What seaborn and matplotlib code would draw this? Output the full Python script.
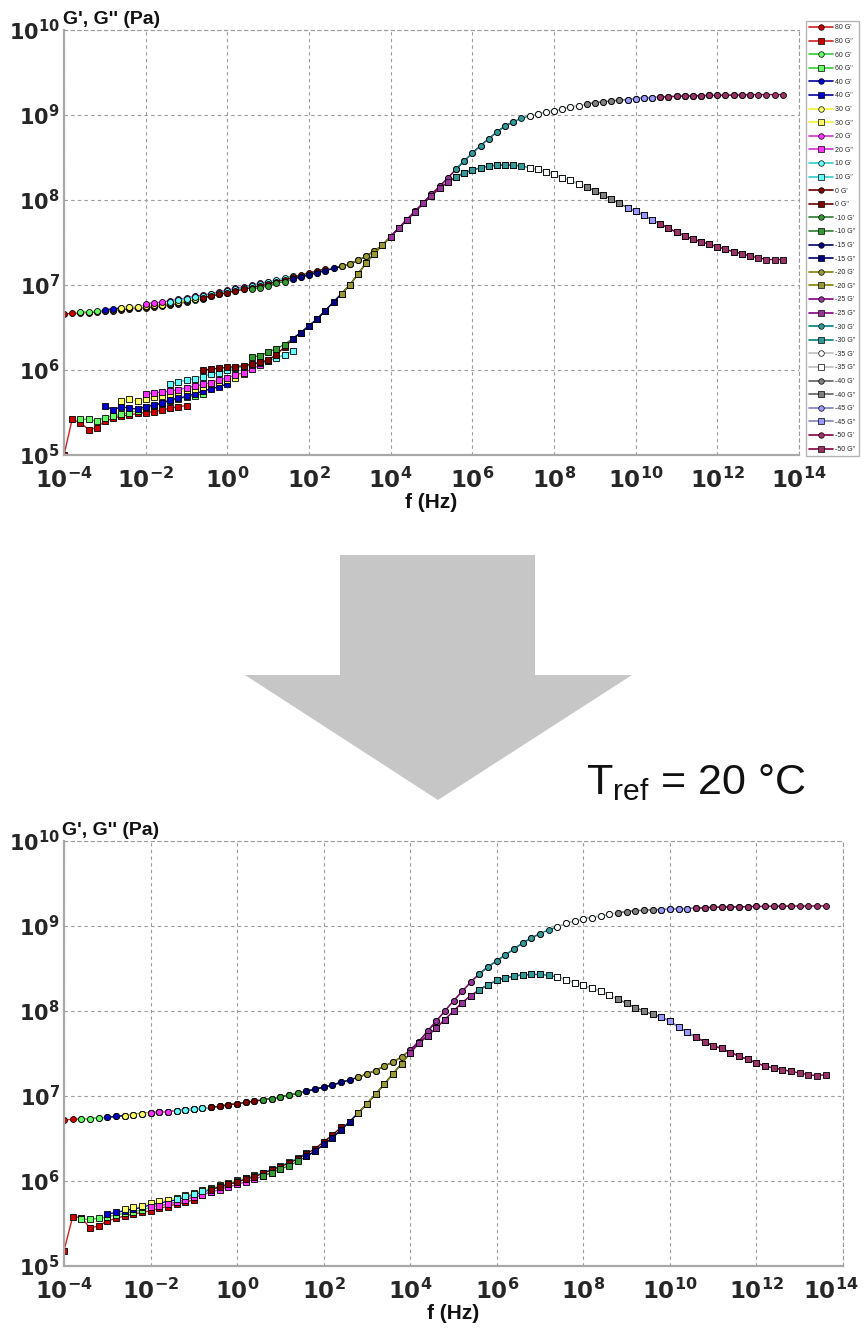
import numpy as np
import pandas as pd
import matplotlib
matplotlib.use("Agg")
import matplotlib.pyplot as plt
import matplotlib.ticker as mticker
import matplotlib.transforms as mtransforms
from matplotlib.lines import Line2D
from matplotlib.patches import Polygon
import seaborn as sns

# ---------------- data (log10 values) ----------------
LOG_F = [-4.0, -3.8, -3.6, -3.4, -3.2, -3.0, -2.8, -2.6, -2.4, -2.2,
         -2.0, -1.8, -1.6, -1.4, -1.2, -1.0, -0.8, -0.6, -0.4, -0.2,
         0.0, 0.2, 0.4, 0.6, 0.8, 1.0, 1.2, 1.4, 1.6, 1.8,
         2.0, 2.2, 2.4, 2.6, 2.8, 3.0, 3.2, 3.4, 3.6, 3.8,
         4.0, 4.2, 4.4, 4.6, 4.8, 5.0, 5.2, 5.4, 5.6, 5.8,
         6.0, 6.2, 6.4, 6.6, 6.8, 7.0, 7.2, 7.4, 7.6, 7.8,
         8.0, 8.2, 8.4, 8.6, 8.8, 9.0, 9.2, 9.4, 9.6, 9.8,
         10.0, 10.2, 10.4, 10.6, 10.8, 11.0, 11.2, 11.4, 11.6, 11.8,
         12.0, 12.2, 12.4, 12.6, 12.8, 13.0, 13.2, 13.4, 13.6]

TEMPS = [80, 60, 40, 30, 20, 10, 0, -10, -15, -20, -25, -30, -35, -40, -45, -50]
LINE_COLORS = ["#cc2020", "#33cc33", "#000099", "#f2f230", "#cc33cc", "#33cccc",
               "#660000", "#2e7d32", "#000066", "#808000", "#800080", "#008080",
               "#bdbdbd", "#606060", "#8080c0", "#800040"]
FACE_COLORS = ["#cc0000", "#66ff66", "#0000cc", "#ffff66", "#ff33ff", "#66ffff",
               "#800000", "#339933", "#000080", "#999933", "#993399", "#339999",
               "#ffffff", "#808080", "#9999ff", "#993366"]
SEG_START = [-4.0, -3.6, -3.0, -2.6, -2.0, -1.4, -0.6, 0.6, 1.6, 2.8, 4.0, 5.6,
             7.4, 8.8, 9.8, 10.6]
SEG_POINTS = 16

# upper panel (before vertical shift)
GP_TOP = [6.66, 6.665, 6.67, 6.675, 6.68, 6.69, 6.70, 6.71, 6.72, 6.725,
          6.73, 6.74, 6.75, 6.765, 6.78, 6.80, 6.815, 6.83, 6.85, 6.87,
          6.89, 6.91, 6.93, 6.95, 6.97, 6.99, 7.02, 7.04, 7.07, 7.095,
          7.12, 7.145, 7.17, 7.195, 7.22, 7.25, 7.29, 7.34, 7.40, 7.47,
          7.57, 7.67, 7.77, 7.87, 7.97, 8.07, 8.16, 8.26, 8.36, 8.46,
          8.55, 8.64, 8.72, 8.80, 8.87, 8.92, 8.96, 8.99, 9.01, 9.03,
          9.05, 9.07, 9.09, 9.11, 9.13, 9.145, 9.155, 9.165, 9.175, 9.18,
          9.19, 9.20, 9.205, 9.21, 9.215, 9.22, 9.222, 9.225, 9.227, 9.23,
          9.23, 9.232, 9.234, 9.236, 9.238, 9.24, 9.24, 9.24, 9.24]
GPP_TOP = [5.45, 5.47, 5.49, 5.51, 5.53, 5.55, 5.57, 5.59, 5.61, 5.63,
           5.65, 5.67, 5.70, 5.72, 5.75, 5.78, 5.81, 5.84, 5.87, 5.90,
           5.94, 5.98, 6.02, 6.15, 6.17, 6.21, 6.25, 6.30, 6.37, 6.44,
           6.52, 6.60, 6.70, 6.80, 6.90, 7.00, 7.13, 7.26, 7.37, 7.47,
           7.57, 7.67, 7.77, 7.86, 7.96, 8.05, 8.14, 8.21, 8.27, 8.32,
           8.35, 8.38, 8.40, 8.41, 8.41, 8.41, 8.40, 8.38, 8.36, 8.33,
           8.30, 8.26, 8.23, 8.19, 8.15, 8.11, 8.06, 8.01, 7.96, 7.91,
           7.87, 7.82, 7.77, 7.72, 7.67, 7.62, 7.58, 7.54, 7.51, 7.48,
           7.45, 7.42, 7.39, 7.37, 7.34, 7.32, 7.30, 7.30, 7.30]
GPP_TOP_LOW = {
    80: [5.00, 5.42, 5.38, 5.30, 5.32, 5.40, 5.43, 5.46, 5.47, 5.49, 5.50, 5.51, 5.53, 5.55, 5.57, 5.58],
    60: [5.42, 5.42, 5.40, 5.44, 5.46, 5.48, 5.50, 5.52, 5.55, 5.58, 5.61, 5.64, 5.66, 5.68, 5.70, 5.72],
    40: [5.58, 5.53, 5.57, 5.55, 5.54, 5.57, 5.59, 5.61, 5.65, 5.67, 5.69, 5.72, 5.75, 5.78, 5.80, 5.84],
    30: [5.63, 5.66, 5.63, 5.66, 5.68, 5.70, 5.72, 5.74, 5.76, 5.78, 5.80, 5.83, 5.86, 5.88, 5.91, 5.95],
    20: [5.72, 5.73, 5.74, 5.75, 5.77, 5.79, 5.81, 5.83, 5.85, 5.88, 5.91, 5.94, 5.97, 6.01, 6.06, 6.11],
    10: [5.83, 5.86, 5.88, 5.90, 5.92, 5.95, 5.97, 6.00, 6.02, 6.04, 6.06, 6.08, 6.11, 6.14, 6.18, 6.22],
    0: [6.00, 6.01, 6.02, 6.03, 6.04, 6.05, 6.07, 6.09, 6.12, 6.18, 6.27, 6.36, 6.44, 6.52, 6.60, 6.70],
}
GP_SHIFT_TOP = [0.0, 0.01, 0.02, 0.02, 0.05, 0.04, 0.02, 0.0, 0.0, 0.0, 0.0, 0.0, 0.0, 0.0, 0.0, 0.0]

# lower panel (Tref = 20 C)
GP_BOT = [6.72, 6.725, 6.73, 6.735, 6.74, 6.75, 6.76, 6.77, 6.78, 6.79,
          6.80, 6.81, 6.815, 6.825, 6.835, 6.845, 6.855, 6.865, 6.88, 6.895,
          6.91, 6.925, 6.94, 6.955, 6.97, 6.99, 7.01, 7.03, 7.055, 7.08,
          7.105, 7.13, 7.16, 7.19, 7.22, 7.26, 7.30, 7.35, 7.40, 7.46,
          7.54, 7.64, 7.76, 7.88, 8.00, 8.12, 8.23, 8.34, 8.44, 8.52,
          8.59, 8.66, 8.73, 8.80, 8.86, 8.91, 8.955, 8.99, 9.03, 9.06,
          9.085, 9.10, 9.12, 9.14, 9.155, 9.17, 9.18, 9.185, 9.19, 9.193,
          9.197, 9.20, 9.205, 9.21, 9.215, 9.22, 9.222, 9.224, 9.226, 9.228,
          9.23, 9.23, 9.232, 9.233, 9.234, 9.235, 9.235, 9.236, 9.236]
GPP_BOT = [5.50, 5.53, 5.55, 5.55, 5.56, 5.58, 5.60, 5.62, 5.64, 5.66,
           5.69, 5.71, 5.73, 5.75, 5.78, 5.81, 5.84, 5.87, 5.90, 5.93,
           5.96, 5.99, 6.02, 6.06, 6.10, 6.14, 6.18, 6.23, 6.29, 6.35,
           6.43, 6.51, 6.60, 6.70, 6.80, 6.91, 7.02, 7.14, 7.26, 7.38,
           7.51, 7.62, 7.71, 7.80, 7.90, 8.00, 8.10, 8.18, 8.25, 8.31,
           8.36, 8.39, 8.41, 8.425, 8.43, 8.43, 8.42, 8.40, 8.37, 8.33,
           8.30, 8.27, 8.23, 8.19, 8.14, 8.09, 8.04, 8.00, 7.96, 7.93,
           7.88, 7.81, 7.75, 7.69, 7.64, 7.59, 7.56, 7.51, 7.47, 7.43,
           7.39, 7.35, 7.33, 7.31, 7.29, 7.27, 7.25, 7.24, 7.25]
GPP_BOT_LOW = {
    80: [5.18, 5.58, 5.57, 5.45, 5.47, 5.53, 5.56, 5.59, 5.61, 5.63, 5.65, 5.68, 5.70, 5.73, 5.75, 5.78],
}
GPP_SHIFT_BOT = [0.0, 0.0, 0.03, 0.05, 0.0, 0.04, 0.03, 0.0, 0.0, 0.0, 0.0, 0.0, 0.0, 0.0, 0.0, 0.0]

X_TICKS = [-4, -2, 0, 2, 4, 6, 8, 10, 12, 14]
Y_TICKS = [5, 6, 7, 8, 9, 10]

# ---------------- build tidy table ----------------
rows = []
panels = {
    "top": (GP_TOP, GPP_TOP, GPP_TOP_LOW, GP_SHIFT_TOP, [0.0] * 16),
    "bot": (GP_BOT, GPP_BOT, GPP_BOT_LOW, [0.0] * 16, GPP_SHIFT_BOT),
}
for pname, (gp, gpp, low, sgp, sgpp) in panels.items():
    for k, t in enumerate(TEMPS):
        i0 = int(round((SEG_START[k] - LOG_F[0]) / 0.2))
        for j, i in enumerate(range(i0, i0 + SEG_POINTS)):
            f = 10 ** LOG_F[i]
            rows.append((pname, t, "G'", f, 10 ** (gp[i] + sgp[k])))
            v2 = low[t][j] if t in low else gpp[i] + sgpp[k]
            rows.append((pname, t, "G''", f, 10 ** v2))
df = pd.DataFrame(rows, columns=["panel", "T", "mod", "f", "G"])

# ---------------- figure ----------------
sns.set_theme(style="white")
plt.rcParams["font.family"] = ["Liberation Sans", "DejaVu Sans"]
plt.rcParams["mathtext.fontset"] = "dejavusans"

W, H = 864, 1337
fig = plt.figure(figsize=(W / 100, H / 100), dpi=100)
fig.patch.set_facecolor("white")

def fx(px):
    return px / W

def fy(py):
    return 1 - py / H

ax_top = fig.add_axes([fx(64), fy(455), fx(799) - fx(64), fy(30) - fy(455)])
ax_bot = fig.add_axes([fx(64), fy(1266), fx(843) - fx(64), fy(841) - fy(1266)])

markers = {"G'": "o", "G''": "s"}
for pname, ax in (("top", ax_top), ("bot", ax_bot)):
    sub_p = df[df.panel == pname]
    for k, t in enumerate(TEMPS):
        for mod in ("G'", "G''"):
            sub = sub_p[(sub_p["T"] == t) & (sub_p["mod"] == mod)]
            sns.lineplot(data=sub, x="f", y="G", ax=ax, estimator=None, sort=False,
                         errorbar=None, legend=False, color=LINE_COLORS[k],
                         linewidth=1.0, marker=markers[mod], markersize=4.3,
                         markerfacecolor=FACE_COLORS[k], markeredgecolor="black",
                         markeredgewidth=0.6)

grid_kw = dict(color="#9a9a9a", linestyle=(0, (3, 3)), linewidth=0.8)
fmt = mticker.FuncFormatter(lambda v, p: r"$\mathbf{10^{%d}}$" % int(round(np.log10(v))))
for ax in (ax_top, ax_bot):
    ax.set_xscale("log")
    ax.set_yscale("log")
    ax.set_xlim(1e-4, 1e14)
    ax.set_ylim(1e5, 1e10)
    ax.xaxis.set_major_locator(mticker.FixedLocator([10.0 ** k for k in X_TICKS]))
    ax.yaxis.set_major_locator(mticker.FixedLocator([10.0 ** k for k in Y_TICKS]))
    ax.xaxis.set_minor_locator(mticker.NullLocator())
    ax.yaxis.set_minor_locator(mticker.NullLocator())
    ax.xaxis.set_major_formatter(fmt)
    ax.yaxis.set_major_formatter(fmt)
    ax.grid(True, which="major", **grid_kw)
    ax.tick_params(axis="x", length=0, labelsize=16.5, pad=9)
    ax.tick_params(axis="y", length=0, labelsize=15, pad=3)
    for s in ("left", "bottom"):
        ax.spines[s].set_color("#a8a8a8")
        ax.spines[s].set_linewidth(1.6)
    for s in ("top", "right"):
        ax.spines[s].set_color("#9a9a9a")
        ax.spines[s].set_linestyle((0, (3, 3)))
        ax.spines[s].set_linewidth(0.8)
    ax.set_xlabel("f (Hz)", fontsize=15, fontweight="bold", labelpad=0, color="#111111")
    ax.set_ylabel("")
    ax.text(-0.002, 1.004, "G', G'' (Pa)", transform=ax.transAxes, ha="left", va="bottom",
            fontsize=14, fontweight="bold", color="#111111")
    ax.set_facecolor("white")

# keep the last tick label of the lower panel inside the picture
fig.canvas.draw()
last = ax_bot.get_xticklabels()[-1]
last.set_transform(last.get_transform() +
                   mtransforms.ScaledTranslation(-0.12, 0, fig.dpi_scale_trans))

# legend of the upper panel
handles, labels = [], []
for k, t in enumerate(TEMPS):
    for mod in ("G'", "G''"):
        handles.append(Line2D([0], [0], color=LINE_COLORS[k], lw=1.2, marker=markers[mod],
                              markersize=4, markerfacecolor=FACE_COLORS[k],
                              markeredgecolor="black", markeredgewidth=0.5))
        labels.append(f"{t} {mod}")
fig.legend(handles, labels, loc="upper left", bbox_to_anchor=(fx(806), fy(21)),
           fontsize=5, frameon=True, fancybox=False, edgecolor="#a0a0a0",
           handlelength=3.4, handletextpad=0.3, borderpad=0.5, labelspacing=0.95,
           borderaxespad=0)

# big arrow between the panels
arrow = Polygon([(fx(340), fy(555)), (fx(535), fy(555)), (fx(535), fy(675)),
                 (fx(632), fy(675)), (fx(438), fy(800)), (fx(245), fy(675)),
                 (fx(340), fy(675))], closed=True, transform=fig.transFigure,
                facecolor="#c6c6c6", edgecolor="none")
fig.patches.append(arrow)

fig.text(fx(586), fy(794), r"T$_{\mathregular{ref}}$ = 20 °C", fontsize=31,
         ha="left", va="baseline", color="#111111")

fig.savefig("out.png", dpi=100, facecolor="white")
